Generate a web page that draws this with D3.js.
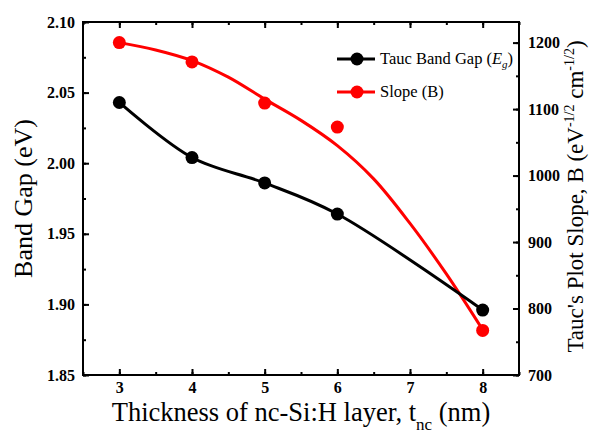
<!DOCTYPE html>
<html>
<head>
<meta charset="utf-8">
<script src="https://cdn.jsdelivr.net/npm/d3@7"></script>
<style>
  body { margin: 0; background: #fff; }
  text { font-family: "Liberation Serif", "Times New Roman", serif; }
</style>
</head>
<body>
<div id="chart"></div>
<script>
// thickness of nc-Si:H layer (nm)
var thickness = [3, 4, 5, 6, 8];
// Tauc band gap Eg (eV), left axis
var bandGap = [2.043, 2.004, 1.986, 1.964, 1.896];
// Tauc plot slope B, right axis
var slopeB = [1200, 1171, 1109, 1073, 767];
// red fitted curve
var fitX = [3, 3.5, 4, 4.5, 5, 5.5, 6, 6.5, 7, 7.5, 8];
var fitB = [1200, 1189, 1173, 1148, 1115, 1083, 1045, 995, 928, 852, 768];

var leftTicks = [1.85, 1.90, 1.95, 2.00, 2.05, 2.10];
var rightTicks = [700, 800, 900, 1000, 1100, 1200];
var xTicks = [3, 4, 5, 6, 7, 8];

var width = 590;
var height = 436;
var pLeft = 83, pRight = 519, pTop = 22, pBottom = 375;

var svg = d3.select("#chart").append("svg")
  .attr("width", width)
  .attr("height", height);

/* Scales */
var xScale = d3.scaleLinear().domain([2.5, 8.5]).range([pLeft, pRight]);
var yLeft = d3.scaleLinear().domain([1.85, 2.10]).range([pBottom, pTop]);
var yRight = d3.scaleLinear().domain([700, 1231]).range([pBottom, pTop]);

/* Axes, ticks pointing inward like Origin */
function styleAxis(g) {
  g.select(".domain").remove();
  g.selectAll(".tick line").attr("stroke", "#000").attr("stroke-width", 2);
  g.selectAll(".tick text")
    .attr("fill", "#000")
    .style("font-size", "16px")
    .style("font-weight", "bold");
}

var xMinor = d3.range(2.5, 8.51, 0.5);

svg.append("g")
  .attr("transform", `translate(0, ${pBottom})`)
  .call(d3.axisBottom(xScale).tickValues(xMinor).tickSize(-3).tickFormat(""))
  .call(styleAxis);
svg.append("g")
  .attr("transform", `translate(0, ${pBottom})`)
  .call(d3.axisBottom(xScale).tickValues(xTicks).tickSize(-6).tickPadding(7).tickFormat(d3.format("d")))
  .call(styleAxis);

svg.append("g")
  .attr("transform", `translate(0, ${pTop})`)
  .call(d3.axisTop(xScale).tickValues(xMinor).tickSize(-3).tickFormat(""))
  .call(styleAxis);
svg.append("g")
  .attr("transform", `translate(0, ${pTop})`)
  .call(d3.axisTop(xScale).tickValues(xTicks).tickSize(-6).tickFormat(""))
  .call(styleAxis);

svg.append("g")
  .attr("transform", `translate(${pLeft}, 0)`)
  .call(d3.axisLeft(yLeft).tickValues(d3.range(1.85, 2.101, 0.025)).tickSize(-3).tickFormat(""))
  .call(styleAxis);
svg.append("g")
  .attr("transform", `translate(${pLeft}, 0)`)
  .call(d3.axisLeft(yLeft).tickValues(leftTicks).tickSize(-6).tickPadding(8).tickFormat(d3.format(".2f")))
  .call(styleAxis);

svg.append("g")
  .attr("transform", `translate(${pRight}, 0)`)
  .call(d3.axisRight(yRight).tickValues(d3.range(700, 1231, 50)).tickSize(-3).tickFormat(""))
  .call(styleAxis);
svg.append("g")
  .attr("transform", `translate(${pRight}, 0)`)
  .call(d3.axisRight(yRight).tickValues(rightTicks).tickSize(-6).tickPadding(9).tickFormat(d3.format("d")))
  .call(styleAxis);

// frame
svg.append("rect")
  .attr("x", pLeft).attr("y", pTop)
  .attr("width", pRight - pLeft).attr("height", pBottom - pTop)
  .attr("fill", "none").attr("stroke", "#000").attr("stroke-width", 2);

/* Axis titles */
svg.append("text")
  .attr("transform", `translate(32, ${(pTop + pBottom) / 2}) rotate(-90)`)
  .attr("text-anchor", "middle")
  .style("font-size", "26px")
  .text("Band Gap (eV)");

var xt = svg.append("text")
  .attr("x", (pLeft + pRight) / 2 + 0)
  .attr("y", 421)
  .attr("text-anchor", "middle")
  .style("font-size", "26.5px");
xt.append("tspan").text("Thickness of nc-Si:H layer, t");
xt.append("tspan").attr("dy", 9).style("font-size", "17px").text("nc");
xt.append("tspan").attr("dy", -9).text(" (nm)");

var yt = svg.append("text")
  .attr("transform", `translate(583, ${(pTop + pBottom) / 2 - 2}) rotate(-90)`)
  .attr("text-anchor", "middle")
  .style("font-size", "23px");
yt.append("tspan").text("Tauc's Plot Slope, B (eV");
yt.append("tspan").attr("dy", -9).style("font-size", "14px").text("-1/2");
yt.append("tspan").attr("dy", 9).text(" cm");
yt.append("tspan").attr("dy", -9).style("font-size", "14px").text("-1/2");
yt.append("tspan").attr("dy", 9).text(")");

/* Lines */
var bandLine = d3.line()
  .x(d => xScale(d[0]))
  .y(d => yLeft(d[1]))
  .curve(d3.curveCatmullRom.alpha(0.5));

var slopeLine = d3.line()
  .x(d => xScale(d[0]))
  .y(d => yRight(d[1]))
  .curve(d3.curveCatmullRom.alpha(0.5));

svg.append("path")
  .datum(d3.zip(fitX, fitB))
  .attr("d", slopeLine)
  .attr("fill", "none")
  .attr("stroke", "#f00")
  .attr("stroke-width", 3);

svg.append("path")
  .datum(d3.zip(thickness, bandGap))
  .attr("d", bandLine)
  .attr("fill", "none")
  .attr("stroke", "#000")
  .attr("stroke-width", 3);

svg.append("g").selectAll("circle")
  .data(d3.zip(thickness, bandGap)).enter()
  .append("circle")
  .attr("cx", d => xScale(d[0]))
  .attr("cy", d => yLeft(d[1]))
  .attr("r", 6.5)
  .attr("fill", "#000");

svg.append("g").selectAll("circle")
  .data(d3.zip(thickness, slopeB)).enter()
  .append("circle")
  .attr("cx", d => xScale(d[0]))
  .attr("cy", d => yRight(d[1]))
  .attr("r", 6.5)
  .attr("fill", "#f00");

/* Legend */
var legend = svg.append("g");
var items = [{color: "#000", y: 59}, {color: "#f00", y: 92}];
items.forEach(function(it) {
  legend.append("line")
    .attr("x1", 337).attr("x2", 375)
    .attr("y1", it.y).attr("y2", it.y)
    .attr("stroke", it.color).attr("stroke-width", 3);
  legend.append("circle")
    .attr("cx", 357).attr("cy", it.y).attr("r", 6.5)
    .attr("fill", it.color);
});

var l1 = legend.append("text").attr("x", 380).attr("y", 64).style("font-size", "16.5px");
l1.append("tspan").text("Tauc Band Gap (");
l1.append("tspan").style("font-style", "italic").text("E");
l1.append("tspan").attr("dy", 4).style("font-size", "11px").style("font-style", "italic").text("g");
l1.append("tspan").attr("dy", -4).text(")");

legend.append("text").attr("x", 380).attr("y", 97).style("font-size", "16.5px").text("Slope (B)");
</script>
</body>
</html>
